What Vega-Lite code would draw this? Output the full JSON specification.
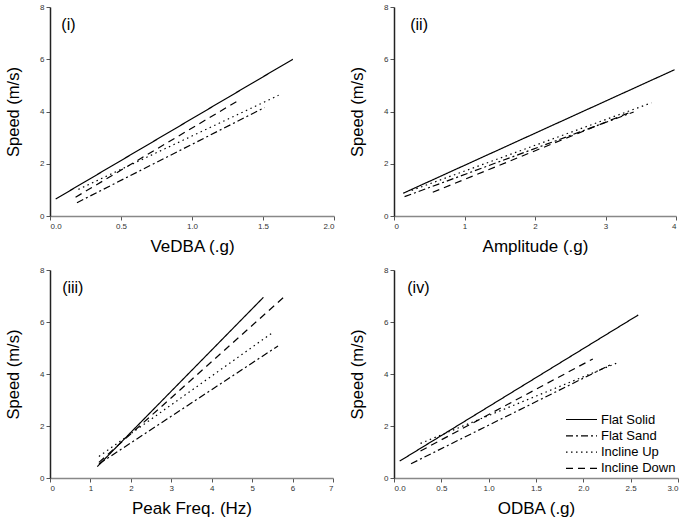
{
  "$schema": "https://vega.github.io/schema/vega-lite/v6.json",
  "background": "white",
  "padding": {"left": 5, "top": 3, "right": 3, "bottom": 3},
  "columns": 2,
  "spacing": {"row": 12, "column": 14},
  "config": {
    "font": "Liberation Sans",
    "view": {"stroke": null},
    "axis": {"grid": false, "tickColor": "#555", "tickSize": 4, "labelFontSize": 8, "labelColor": "#333", "labelPadding": 2, "titleFontWeight": "normal", "titleColor": "black", "domainWidth": 1.5},
    "axisX": {"domainColor": "#888", "titleFontSize": 17, "titlePadding": 8},
    "axisY": {"domainColor": "#222", "titleFontSize": 16.5, "titlePadding": 18},
    "line": {"color": "black", "strokeWidth": 1.2}
  },
  "resolve": {"scale": {"strokeDash": "independent"}, "legend": {"strokeDash": "independent"}},
  "datasets": {
    "lines": [
      {"panel": "i", "cond": "Flat Solid", "x": 0.04, "y": 0.65},
      {"panel": "i", "cond": "Flat Solid", "x": 1.71, "y": 6.0},
      {"panel": "i", "cond": "Flat Sand", "x": 0.19, "y": 0.51},
      {"panel": "i", "cond": "Flat Sand", "x": 1.51, "y": 4.15},
      {"panel": "i", "cond": "Incline Up", "x": 0.2, "y": 1.02},
      {"panel": "i", "cond": "Incline Up", "x": 1.61, "y": 4.62},
      {"panel": "i", "cond": "Incline Down", "x": 0.18, "y": 0.72},
      {"panel": "i", "cond": "Incline Down", "x": 1.32, "y": 4.4},
      {"panel": "ii", "cond": "Flat Solid", "x": 0.13, "y": 0.87},
      {"panel": "ii", "cond": "Flat Solid", "x": 3.98, "y": 5.6},
      {"panel": "ii", "cond": "Flat Sand", "x": 0.15, "y": 0.74},
      {"panel": "ii", "cond": "Flat Sand", "x": 3.4, "y": 3.98},
      {"panel": "ii", "cond": "Incline Up", "x": 0.25, "y": 0.98},
      {"panel": "ii", "cond": "Incline Up", "x": 3.65, "y": 4.33},
      {"panel": "ii", "cond": "Incline Down", "x": 0.55, "y": 0.91},
      {"panel": "ii", "cond": "Incline Down", "x": 3.35, "y": 3.97},
      {"panel": "iii", "cond": "Flat Solid", "x": 1.17, "y": 0.44},
      {"panel": "iii", "cond": "Flat Solid", "x": 5.28, "y": 6.95},
      {"panel": "iii", "cond": "Flat Sand", "x": 1.21, "y": 0.54},
      {"panel": "iii", "cond": "Flat Sand", "x": 5.64, "y": 5.08},
      {"panel": "iii", "cond": "Incline Up", "x": 1.21, "y": 0.83},
      {"panel": "iii", "cond": "Incline Up", "x": 5.54, "y": 5.63},
      {"panel": "iii", "cond": "Incline Down", "x": 1.21, "y": 0.6},
      {"panel": "iii", "cond": "Incline Down", "x": 5.78, "y": 6.95},
      {"panel": "iv", "cond": "Flat Solid", "x": 0.06, "y": 0.65},
      {"panel": "iv", "cond": "Flat Solid", "x": 2.58, "y": 6.27},
      {"panel": "iv", "cond": "Flat Sand", "x": 0.18, "y": 0.55},
      {"panel": "iv", "cond": "Flat Sand", "x": 2.3, "y": 4.38},
      {"panel": "iv", "cond": "Incline Up", "x": 0.28, "y": 1.33},
      {"panel": "iv", "cond": "Incline Up", "x": 2.38, "y": 4.46},
      {"panel": "iv", "cond": "Incline Down", "x": 0.28, "y": 1.04},
      {"panel": "iv", "cond": "Incline Down", "x": 2.1, "y": 4.58}
    ]
  },
  "concat": [
    {
      "width": 284, "height": 209,
      "layer": [
        {
          "data": {"name": "lines"},
          "transform": [{"filter": "datum.panel == 'i'"}],
          "mark": {"type": "line"},
          "encoding": {
            "x": {"field": "x", "type": "quantitative", "title": "VeDBA (.g)", "scale": {"domain": [0, 2], "nice": false}, "axis": {"values": [0, 0.5, 1, 1.5, 2], "format": ".1f"}},
            "y": {"field": "y", "type": "quantitative", "title": "Speed (m/s)", "scale": {"domain": [0, 8], "nice": false}, "axis": {"values": [0, 2, 4, 6, 8], "format": "d"}},
            "strokeDash": {"field": "cond", "type": "nominal", "scale": {"domain": ["Flat Solid", "Flat Sand", "Incline Up", "Incline Down"], "range": [[1, 0], [7, 3, 2, 3], [1.5, 3.5], [7, 5]]}, "legend": null}
          }
        },
        {
          "data": {"values": [{"x": 0.08, "y": 7.3, "t": "(i)"}]},
          "mark": {"type": "text", "align": "left", "baseline": "middle", "fontSize": 16},
          "encoding": {
            "x": {"field": "x", "type": "quantitative", "title": "VeDBA (.g)"},
            "y": {"field": "y", "type": "quantitative", "title": "Speed (m/s)"},
            "text": {"field": "t"}
          }
        }
      ]
    },
    {
      "width": 282, "height": 209,
      "layer": [
        {
          "data": {"name": "lines"},
          "transform": [{"filter": "datum.panel == 'ii'"}],
          "mark": {"type": "line"},
          "encoding": {
            "x": {"field": "x", "type": "quantitative", "title": "Amplitude (.g)", "scale": {"domain": [0, 4], "nice": false}, "axis": {"values": [0, 1, 2, 3, 4], "format": "d"}},
            "y": {"field": "y", "type": "quantitative", "title": "Speed (m/s)", "scale": {"domain": [0, 8], "nice": false}, "axis": {"values": [0, 2, 4, 6, 8], "format": "d"}},
            "strokeDash": {"field": "cond", "type": "nominal", "scale": {"domain": ["Flat Solid", "Flat Sand", "Incline Up", "Incline Down"], "range": [[1, 0], [7, 3, 2, 3], [1.5, 3.5], [7, 5]]}, "legend": null}
          }
        },
        {
          "data": {"values": [{"x": 0.23, "y": 7.3, "t": "(ii)"}]},
          "mark": {"type": "text", "align": "left", "baseline": "middle", "fontSize": 16},
          "encoding": {
            "x": {"field": "x", "type": "quantitative", "title": "Amplitude (.g)"},
            "y": {"field": "y", "type": "quantitative", "title": "Speed (m/s)"},
            "text": {"field": "t"}
          }
        }
      ]
    },
    {
      "width": 283, "height": 208,
      "layer": [
        {
          "data": {"name": "lines"},
          "transform": [{"filter": "datum.panel == 'iii'"}],
          "mark": {"type": "line"},
          "encoding": {
            "x": {"field": "x", "type": "quantitative", "title": "Peak Freq. (Hz)", "scale": {"domain": [0, 7], "nice": false}, "axis": {"values": [0, 1, 2, 3, 4, 5, 6, 7], "format": "d"}},
            "y": {"field": "y", "type": "quantitative", "title": "Speed (m/s)", "scale": {"domain": [0, 8], "nice": false}, "axis": {"values": [0, 2, 4, 6, 8], "format": "d"}},
            "strokeDash": {"field": "cond", "type": "nominal", "scale": {"domain": ["Flat Solid", "Flat Sand", "Incline Up", "Incline Down"], "range": [[1, 0], [7, 3, 2, 3], [1.5, 3.5], [7, 5]]}, "legend": null}
          }
        },
        {
          "data": {"values": [{"x": 0.3, "y": 7.3, "t": "(iii)"}]},
          "mark": {"type": "text", "align": "left", "baseline": "middle", "fontSize": 16},
          "encoding": {
            "x": {"field": "x", "type": "quantitative", "title": "Peak Freq. (Hz)"},
            "y": {"field": "y", "type": "quantitative", "title": "Speed (m/s)"},
            "text": {"field": "t"}
          }
        }
      ]
    },
    {
      "width": 284, "height": 208,
      "layer": [
        {
          "data": {"name": "lines"},
          "transform": [{"filter": "datum.panel == 'iv'"}],
          "mark": {"type": "line"},
          "encoding": {
            "x": {"field": "x", "type": "quantitative", "title": "ODBA (.g)", "scale": {"domain": [0, 3], "nice": false}, "axis": {"values": [0, 0.5, 1, 1.5, 2, 2.5, 3], "format": ".1f"}},
            "y": {"field": "y", "type": "quantitative", "title": "Speed (m/s)", "scale": {"domain": [0, 8], "nice": false}, "axis": {"values": [0, 2, 4, 6, 8], "format": "d"}},
            "strokeDash": {"field": "cond", "type": "nominal", "scale": {"domain": ["Flat Solid", "Flat Sand", "Incline Up", "Incline Down"], "range": [[1, 0], [7, 3, 2, 3], [1.5, 3.5], [7, 5]]},
              "legend": {"orient": "none", "legendX": 171, "legendY": 142, "title": null, "symbolType": "stroke", "symbolSize": 961, "clipHeight": 15, "symbolStrokeWidth": 1.2, "symbolStrokeColor": "black", "labelFontSize": 13, "labelColor": "black", "rowPadding": 1.3, "labelOffset": 3}}
          }
        },
        {
          "data": {"values": [{"x": 0.14, "y": 7.3, "t": "(iv)"}]},
          "mark": {"type": "text", "align": "left", "baseline": "middle", "fontSize": 16},
          "encoding": {
            "x": {"field": "x", "type": "quantitative", "title": "ODBA (.g)"},
            "y": {"field": "y", "type": "quantitative", "title": "Speed (m/s)"},
            "text": {"field": "t"}
          }
        }
      ]
    }
  ]
}
